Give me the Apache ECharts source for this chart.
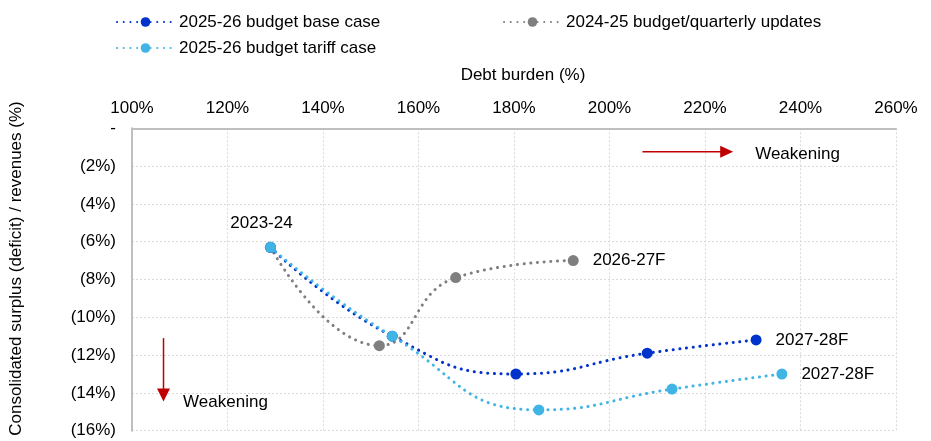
<!DOCTYPE html>
<html>
<head>
<meta charset="utf-8">
<script src="https://cdn.jsdelivr.net/npm/echarts@6/dist/echarts.min.js"></script>
<style>
html,body{margin:0;padding:0;background:#fff;}
#chart{width:931px;height:441px;}
</style>
</head>
<body>
<div id="chart"></div>
<script>
// ---- data ----
var seriesNames = ['2025-26 budget base case', '2024-25 budget/quarterly updates', '2025-26 budget tariff case'];
var baseX = [129.0, 154.5, 180.4, 207.9, 230.7];
var baseY = [-6.3, -11.0, -13.0, -11.9, -11.2];
var baseLabels = ['', '', '', '', '2027-28F'];
var prevX = [129.0, 151.8, 167.8, 192.4];
var prevY = [-6.3, -11.5, -7.9, -7.0];
var prevLabels = ['', '', '', '2026-27F'];
var tariffX = [129.0, 154.5, 185.2, 213.1, 236.1];
var tariffY = [-6.3, -11.0, -14.9, -13.8, -13.0];
var tariffLabels = ['2023-24', '', '', '', '2027-28F'];
var xTicks = [100, 120, 140, 160, 180, 200, 220, 240, 260];
var yTicks = [0, -2, -4, -6, -8, -10, -12, -14, -16];
var xTitle = 'Debt burden (%)';
var yTitle = 'Consolidated surplus (deficit) / revenues (%)';
var annotText = 'Weakening';
// annotation arrows in data units [x1,y1,x2,y2]
var arrowH = [206.9, -1.24, 225.9, -1.24];
var arrowV = [106.6, -11.1, 106.6, -14.45];
var annotH = [230.5, -1.36];
var annotV = [110.7, -14.52];

var FONT = 'Liberation Sans, Arial, sans-serif';
var colBase = '#0033CC', colPrev = '#7F7F7F', colTariff = '#41B4E6', colRed = '#C00000';

function pts(xs, ys, labels, pos) {
  return xs.map(function (x, i) {
    var d = { value: [x, ys[i]] };
    if (labels[i]) {
      d.label = { show: true, formatter: labels[i], position: pos || 'right', distance: 14 };
      if (i === 0) { d.label.position = 'top'; d.label.distance = 10; d.label.offset = [-9, 0]; }
    }
    return d;
  });
}
function lineSeries(name, color, xs, ys, labels, z) {
  return {
    name: name, type: 'line', smooth: 0.5, z: z,
    data: pts(xs, ys, labels),
    symbol: 'circle', symbolSize: 11,
    itemStyle: { color: color },
    lineStyle: { color: color, width: 3, type: [0.1, 6.6], cap: 'round' },
    label: { color: '#000', fontSize: 17, fontFamily: FONT },
    emphasis: { disabled: true },
    animation: false
  };
}

var chart = echarts.init(document.getElementById('chart'), null, { renderer: 'canvas' });
var option = {
  animation: false,
  backgroundColor: '#fff',
  textStyle: { fontFamily: FONT },
  grid: { left: 130.5, right: 35, top: 128.3, bottom: 10.3 },
  legend: [
    { data: [seriesNames[0], seriesNames[2]], orient: 'vertical', left: 111, top: 8.5, itemWidth: 57, itemHeight: 12, itemGap: 9,
      textStyle: { fontSize: 17, color: '#000', fontFamily: FONT }, selectedMode: false },
    { data: [seriesNames[1]], orient: 'horizontal', left: 498, top: 8.5, itemWidth: 57, itemHeight: 12,
      textStyle: { fontSize: 17, color: '#000', fontFamily: FONT }, selectedMode: false }
  ],
  xAxis: {
    type: 'value', position: 'top', min: xTicks[0], max: xTicks[xTicks.length - 1], interval: 20,
    name: xTitle, nameLocation: 'middle', nameGap: 44,
    nameTextStyle: { fontSize: 17, color: '#000', fontFamily: FONT, padding: [0, 0, 0, 18] },
    axisLine: { show: true, lineStyle: { color: '#BFBFBF', width: 2 } },
    axisTick: { show: false },
    axisLabel: { fontSize: 17, color: '#000', margin: 11, formatter: function (v) { return v + '%'; } },
    splitLine: { show: true, lineStyle: { color: '#D9D9D9', type: [2, 2], width: 1 } }
  },
  yAxis: {
    type: 'value', min: yTicks[yTicks.length - 1], max: yTicks[0], interval: 2,
    name: yTitle, nameLocation: 'middle', nameGap: 107, nameRotate: 90,
    nameTextStyle: { fontSize: 17, color: '#000', fontFamily: FONT, padding: [0, 0, 0, 22] },
    axisLine: { show: true, lineStyle: { color: '#BFBFBF', width: 2 } },
    axisTick: { show: false },
    axisLabel: { fontSize: 17, color: '#000', margin: 16,
      formatter: function (v) { return v === 0 ? '-' : '(' + Math.abs(v) + '%)'; } },
    splitLine: { show: true, lineStyle: { color: '#D9D9D9', type: [2, 2], width: 1 } }
  },
  series: [
    lineSeries(seriesNames[1], colPrev, prevX, prevY, prevLabels, 2),
    lineSeries(seriesNames[0], colBase, baseX, baseY, baseLabels, 3),
    lineSeries(seriesNames[2], colTariff, tariffX, tariffY, tariffLabels, 4)
  ]
};
chart.setOption(option);

function px(x, y) { return chart.convertToPixel({ gridIndex: 0 }, [x, y]); }
var h1 = px(arrowH[0], arrowH[1]), h2 = px(arrowH[2], arrowH[3]);
var v1 = px(arrowV[0], arrowV[1]), v2 = px(arrowV[2], arrowV[3]);
var tH = px(annotH[0], annotH[1]), tV = px(annotV[0], annotV[1]);
chart.setOption({
  graphic: [
    { type: 'line', shape: { x1: h1[0], y1: h1[1], x2: h2[0] - 12, y2: h2[1] }, style: { stroke: colRed, lineWidth: 1.5 }, z: 10 },
    { type: 'polygon', shape: { points: [[h2[0] - 13, h2[1] - 6], [h2[0], h2[1]], [h2[0] - 13, h2[1] + 6]] }, style: { fill: colRed }, z: 10 },
    { type: 'line', shape: { x1: v1[0], y1: v1[1], x2: v2[0], y2: v2[1] - 12 }, style: { stroke: colRed, lineWidth: 1.5 }, z: 10 },
    { type: 'polygon', shape: { points: [[v2[0] - 6.5, v2[1] - 13], [v2[0], v2[1]], [v2[0] + 6.5, v2[1] - 13]] }, style: { fill: colRed }, z: 10 },
    { type: 'text', x: tH[0], y: tH[1], style: { text: annotText, fontSize: 17, fontFamily: FONT, fill: '#000', textVerticalAlign: 'middle' }, z: 10 },
    { type: 'text', x: tV[0], y: tV[1], style: { text: annotText, fontSize: 17, fontFamily: FONT, fill: '#000', textVerticalAlign: 'middle' }, z: 10 }
  ]
});
</script>
</body>
</html>
